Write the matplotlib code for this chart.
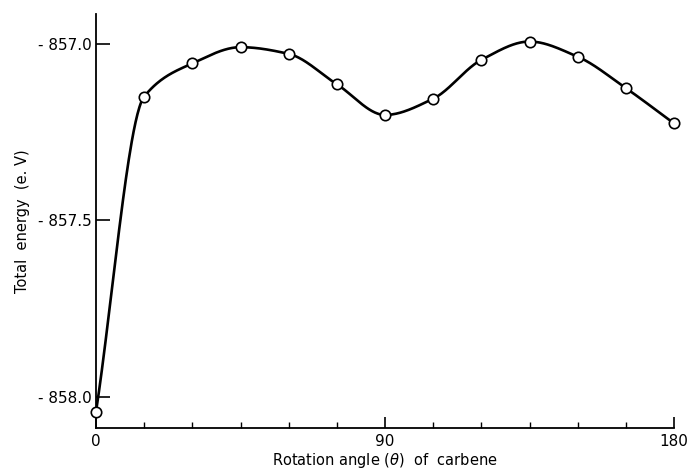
import numpy as np
import matplotlib
matplotlib.use("Agg")
import matplotlib.pyplot as plt

# rotation angle of carbene (deg) and total energy (eV)
angle = [0, 15, 30, 45, 60, 75, 90, 105, 120, 135, 150, 165, 180]
energy = [-858.042, -857.149, -857.055, -857.009, -857.028, -857.114, -857.201,
          -857.155, -857.045, -856.993, -857.036, -857.125, -857.225]

x_major = [0, 90, 180]
x_minor = [15, 30, 45, 60, 75, 105, 120, 135, 150, 165]
y_ticks = [-858.0, -857.5, -857.0]
y_labels = ["- 858.0", "- 857.5", "- 857.0"]


def pchip(x, y, xs):
    # monotone cubic through the points, just for the smooth curve
    x = np.asarray(x, float)
    y = np.asarray(y, float)
    h = np.diff(x)
    d = np.diff(y) / h
    m = np.zeros_like(y)
    for k in range(1, len(x) - 1):
        if d[k - 1] * d[k] > 0:
            w1 = 2 * h[k] + h[k - 1]
            w2 = h[k] + 2 * h[k - 1]
            m[k] = (w1 + w2) / (w1 / d[k - 1] + w2 / d[k])
    m[0] = d[0]
    m[-1] = d[-1]
    idx = np.clip(np.searchsorted(x, xs) - 1, 0, len(x) - 2)
    t = (xs - x[idx]) / h[idx]
    h00 = 2 * t**3 - 3 * t**2 + 1
    h10 = t**3 - 2 * t**2 + t
    h01 = -2 * t**3 + 3 * t**2
    h11 = t**3 - t**2
    return (h00 * y[idx] + h10 * h[idx] * m[idx]
            + h01 * y[idx + 1] + h11 * h[idx] * m[idx + 1])


fig = plt.figure(figsize=(6.87, 4.71), dpi=100)
ax = fig.add_axes([96 / 687, 43 / 471, 578 / 687, 414 / 471])

xs = np.linspace(0, 180, 600)
ax.plot(xs, pchip(angle, energy, xs), color="black", lw=1.9, zorder=2)
ax.plot(angle, energy, "o", ms=7.5, mfc="white", mec="black", mew=1.2,
        zorder=3, clip_on=False)

ax.set_xlim(0, 180)
ax.set_ylim(-858.088, -856.915)

for s in ["top", "right"]:
    ax.spines[s].set_visible(False)
for s in ["left", "bottom"]:
    ax.spines[s].set_linewidth(1.3)

ax.set_xticks(x_major)
ax.set_xticks(x_minor, minor=True)
ax.set_yticks(y_ticks)
ax.set_yticklabels(y_labels)
ax.tick_params(axis="x", which="major", direction="in", length=8, width=1.2,
               labelsize=11, pad=4)
ax.tick_params(axis="x", which="minor", direction="in", length=4, width=1.0)
ax.tick_params(axis="y", direction="in", length=10, width=1.2,
               labelsize=11, pad=3)

ax.set_xlabel(r"Rotation angle ($\theta$)  of  carbene", fontsize=10.5,
              labelpad=2)
ax.set_ylabel("Total  energy  (e. V)", fontsize=10.5, labelpad=6)

fig.savefig("out.png", dpi=100)
